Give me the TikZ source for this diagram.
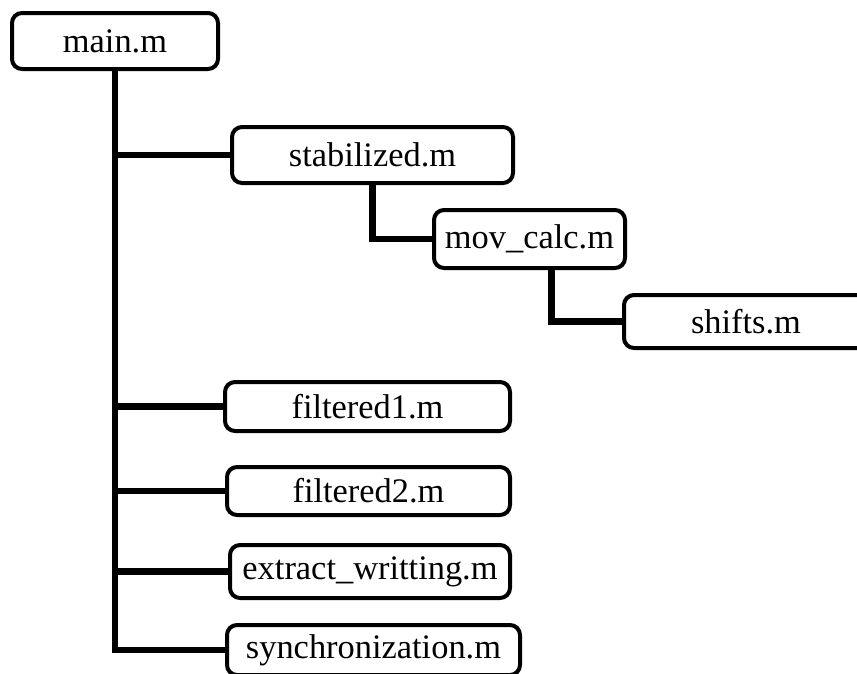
\documentclass[tikz,border=0pt]{standalone}
\usepackage{fontspec}
\setmainfont{Liberation Serif}
\begin{document}
\begin{tikzpicture}[x=1pt,y=-1pt,
  filebox/.style={draw=black, line width=4pt, rounded corners=10pt, fill=white,
    inner sep=0pt, font=\fontsize{34.4}{40}\selectfont},
  conn/.style={draw=black, line width=6.5pt}]
  \useasboundingbox (0,0) rectangle (857,673);
  \clip (0,0) rectangle (857,673);
  % files
  \node[filebox, minimum width=206pt, minimum height=56pt] (main) at (115,41) {main.m};
  \node[filebox, minimum width=281pt, minimum height=56pt] (stab) at (372.5,155) {stabilized.m};
  \node[filebox, minimum width=191pt, minimum height=58pt] (mov) at (529.5,239) {mov\_calc.m};
  \node[filebox, minimum width=244pt, minimum height=53pt] (shifts) at (746,321.5) {shifts.m};
  \node[filebox, minimum width=285pt, minimum height=49pt] (filt1) at (367.5,406.5) {filtered1.m};
  \node[filebox, minimum width=283pt, minimum height=48pt] (filt2) at (368.5,491) {filtered2.m};
  \node[filebox, minimum width=280pt, minimum height=53pt] (extr) at (370,571.5) {extract\_writting.m};
  \node[filebox, minimum width=293pt, minimum height=50pt] (sync) at (373.5,650) {synchronization.m};
  % call tree: trunk from main.m with one branch per called file
  \path[conn] (main.south) |- (sync.west);
  \path[conn] (main.south |- stab.west) -- (stab.west);
  \path[conn] (main.south |- filt1.west) -- (filt1.west);
  \path[conn] (main.south |- filt2.west) -- (filt2.west);
  \path[conn] (main.south |- extr.west) -- (extr.west);
  % nested calls
  \path[conn] (stab.south) |- (mov.west);
  \path[conn] ([xshift=22pt]mov.south) |- (shifts.west);
\end{tikzpicture}
\end{document}
